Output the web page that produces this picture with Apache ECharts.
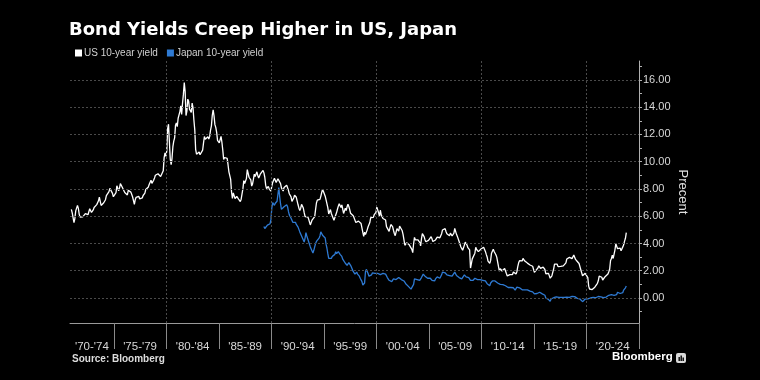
<!DOCTYPE html>
<html>
<head>
<meta charset="utf-8">
<script src="https://cdn.jsdelivr.net/npm/echarts@6/dist/echarts.min.js"></script>
<style>
html,body{margin:0;padding:0;background:#000;}
#chart{width:760px;height:380px;}
</style>
</head>
<body>
<div id="chart"></div>
<script>
// ---- Data ----
const titleText = 'Bond Yields Creep Higher in US, Japan';
const seriesNames = ['US 10-year yield', 'Japan 10-year yield'];
const xBinLabels = ["'70-'74","'75-'79","'80-'84","'85-'89","'90-'94","'95-'99","'00-'04","'05-'09","'10-'14","'15-'19","'20-'24"];
const xBinStarts = [1970.83,1975,1980,1985,1990,1995,2000,2005,2010,2015,2020];
const xBinEnds = [1975,1980,1985,1990,1995,2000,2005,2010,2015,2020,2025];
const xGridYears = [1980,1990,2000,2010,2020];
const yTicks = [0,2,4,6,8,10,12,14,16];
const yMinorTicks = [-1,1,3,5,7,9,11,13,15,17];

// US 10-year yield, monthly, starting Dec 1970
const usStart = [1970, 12];
const usYield = [
 6.50,
 6.24,6.11,5.53,5.83,6.39,6.52,6.80,6.58,6.14,5.93,5.81,5.93,
 5.95,6.08,6.07,6.19,6.13,6.11,6.11,6.21,6.55,6.48,6.28,6.36,
 6.46,6.64,6.71,6.67,6.85,6.90,7.13,7.40,7.09,6.79,6.73,6.74,
 6.99,6.96,7.21,7.51,7.58,7.54,7.81,8.04,8.04,7.90,7.68,7.43,
 7.50,7.39,7.73,8.23,8.06,7.86,8.06,8.40,8.43,8.14,8.05,8.00,
 7.74,7.79,7.73,7.56,7.90,7.86,7.83,7.77,7.59,7.41,7.29,6.87,
 7.21,7.39,7.46,7.37,7.46,7.28,7.33,7.40,7.34,7.52,7.58,7.69,
 7.96,8.03,8.04,8.15,8.35,8.46,8.64,8.41,8.42,8.64,8.81,9.01,
 9.10,9.10,9.12,9.18,9.25,8.91,8.95,9.03,9.33,10.30,10.65,10.39,
 10.80,12.41,12.75,11.47,10.18,9.78,10.25,11.10,11.51,11.75,12.68,12.84,
 12.57,13.19,13.12,13.68,14.10,13.47,14.28,14.94,15.80,15.15,13.39,13.72,
 14.59,14.43,13.86,13.87,13.62,14.30,13.95,13.06,12.34,10.91,10.55,10.54,
 10.46,10.72,10.51,10.40,10.38,10.85,11.38,11.85,11.65,11.54,11.69,11.83,
 11.67,11.84,12.32,12.63,13.41,13.80,13.36,12.72,12.52,12.16,11.57,11.50,
 11.38,11.51,11.86,11.43,10.85,10.16,10.31,10.33,10.37,10.24,9.78,9.26,
 9.19,8.70,7.78,7.30,7.71,7.80,7.30,7.17,7.45,7.43,7.25,7.11,
 7.08,7.25,7.25,8.02,8.61,8.40,8.45,8.76,9.42,9.52,8.86,8.99,
 8.67,8.21,8.37,8.72,9.09,8.92,9.06,9.26,8.98,8.80,8.96,9.11,
 9.09,9.17,9.36,9.18,8.86,8.28,8.02,8.11,8.19,8.01,7.87,7.84,
 8.21,8.47,8.59,8.79,8.76,8.48,8.47,8.75,8.89,8.72,8.39,8.08,
 8.09,7.85,8.11,8.04,8.07,8.28,8.27,7.90,7.65,7.53,7.42,7.09,
 7.03,7.34,7.54,7.48,7.39,7.26,6.84,6.59,6.42,6.59,6.87,6.77,
 6.60,6.26,5.98,5.97,6.04,5.96,5.81,5.68,5.36,5.33,5.72,5.77,
 5.75,5.97,6.48,6.97,7.18,7.10,7.30,7.24,7.46,7.74,7.96,7.81,
 7.78,7.47,7.20,7.06,6.63,6.17,6.28,6.49,6.20,6.04,5.93,5.71,
 5.65,5.81,6.27,6.51,6.74,6.91,6.87,6.64,6.83,6.53,6.20,6.30,
 6.58,6.42,6.69,6.89,6.71,6.49,6.22,6.30,6.21,6.03,5.88,5.81,
 5.54,5.57,5.65,5.64,5.65,5.50,5.46,5.34,4.81,4.53,4.83,4.65,
 4.72,5.00,5.23,5.18,5.54,5.90,5.79,5.94,5.92,6.11,6.03,6.28,
 6.66,6.52,6.26,5.99,6.44,6.10,6.05,5.83,5.80,5.74,5.72,5.24,
 5.16,5.10,4.89,5.14,5.39,5.28,5.24,4.97,4.73,4.57,4.65,5.09,
 5.04,4.91,5.28,5.21,5.16,4.93,4.65,4.26,3.87,3.94,4.05,4.03,
 4.05,3.90,3.81,3.96,3.57,3.33,3.98,4.45,4.27,4.29,4.30,4.27,
 4.15,4.08,3.83,4.35,4.72,4.73,4.50,4.28,4.13,4.10,4.19,4.23,
 4.22,4.17,4.50,4.34,4.14,4.00,4.18,4.26,4.20,4.46,4.54,4.47,
 4.42,4.57,4.72,4.99,5.11,5.11,5.09,4.88,4.72,4.73,4.60,4.56,
 4.76,4.72,4.56,4.69,4.75,5.10,5.00,4.67,4.52,4.53,4.15,4.10,
 3.74,3.74,3.51,3.68,3.88,4.10,4.01,3.89,3.69,3.81,3.53,2.20,
 2.52,2.87,2.82,2.93,3.29,3.72,3.56,3.59,3.40,3.39,3.40,3.59,
 3.73,3.69,3.73,3.85,3.42,3.20,3.01,2.70,2.65,2.54,2.76,3.29,
 3.39,3.58,3.41,3.46,3.17,3.00,3.00,2.30,1.98,2.15,2.01,1.98,
 1.97,1.97,2.17,2.05,1.80,1.62,1.50,1.68,1.72,1.75,1.65,1.72,
 1.91,1.98,1.96,1.76,1.93,2.30,2.58,2.74,2.81,2.62,2.72,2.90,
 2.86,2.71,2.72,2.71,2.56,2.60,2.54,2.42,2.53,2.30,2.33,2.21,
 1.88,1.98,2.04,1.94,2.20,2.36,2.32,2.17,2.17,2.07,2.26,2.24,
 2.09,1.78,1.89,1.81,1.81,1.64,1.45,1.56,1.63,1.76,2.14,2.49,
 2.43,2.42,2.48,2.30,2.30,2.19,2.32,2.21,2.20,2.36,2.35,2.40,
 2.58,2.86,2.84,2.87,2.98,2.91,2.89,2.89,3.00,3.15,3.12,2.83,
 2.71,2.68,2.57,2.53,2.40,2.07,2.06,1.63,1.70,1.71,1.81,1.86,
 1.76,1.50,0.87,0.66,0.67,0.73,0.62,0.65,0.68,0.79,0.87,0.93,
 1.08,1.26,1.61,1.64,1.62,1.52,1.32,1.28,1.37,1.58,1.56,1.47,
 1.76,1.93,2.13,2.75,2.90,3.14,2.90,2.90,3.52,3.98,3.89,3.62,
 3.53,3.75,3.66,3.46,3.57,3.75,3.90,4.17,4.38,4.80
];

// Japan 10-year yield, monthly, starting Apr 1989
const jpStart = [1989, 4];
const jpYield = [
 5.25,5.10,5.05,5.15,5.35,5.40,5.35,5.45,5.75,
 6.60,7.00,7.10,6.80,6.95,7.05,7.10,7.60,8.10,7.45,6.90,6.50,
 6.55,6.45,6.70,6.80,6.75,6.85,6.70,6.35,6.10,6.00,5.85,5.70,
 5.55,5.50,5.60,5.55,5.40,5.35,5.20,5.10,4.85,4.70,4.55,4.50,
 4.25,4.10,4.40,4.80,4.55,4.35,4.15,3.95,3.75,3.60,3.50,3.30,
 3.50,3.75,4.00,4.15,4.10,4.25,4.40,4.55,4.85,4.75,4.60,4.50,
 4.55,4.40,3.95,3.65,3.25,2.90,3.00,2.95,2.90,3.05,3.05,3.10,
 3.20,3.40,3.25,3.30,3.40,3.30,3.20,3.15,3.05,2.85,2.75,2.75,
 2.55,2.50,2.40,2.45,2.60,2.55,2.40,2.25,2.15,1.95,1.85,1.75,
 1.85,1.90,1.75,1.65,1.60,1.45,1.35,1.20,0.95,0.83,1.10,1.93,
 2.10,2.18,1.80,1.60,1.50,1.65,1.70,1.85,1.75,1.75,1.80,1.70,
 1.70,1.80,1.78,1.75,1.72,1.70,1.78,1.80,1.85,1.85,1.75,1.65,
 1.50,1.45,1.30,1.35,1.30,1.20,1.30,1.40,1.45,1.40,1.35,1.35,
 1.45,1.50,1.45,1.40,1.35,1.35,1.30,1.25,1.20,1.05,1.00,0.95,
 0.85,0.80,0.75,0.65,0.55,0.55,1.00,1.40,1.45,1.40,1.35,1.35,
 1.35,1.30,1.40,1.50,1.55,1.75,1.70,1.60,1.50,1.50,1.45,1.40,
 1.40,1.45,1.40,1.30,1.25,1.20,1.25,1.40,1.40,1.55,1.50,1.50,
 1.45,1.55,1.70,1.90,1.85,1.90,1.85,1.75,1.70,1.75,1.70,1.65,
 1.70,1.70,1.60,1.65,1.70,1.90,1.85,1.65,1.60,1.65,1.50,1.50,
 1.45,1.40,1.30,1.40,1.70,1.70,1.55,1.45,1.50,1.50,1.45,1.30,
 1.30,1.30,1.30,1.40,1.45,1.40,1.35,1.35,1.30,1.35,1.35,1.30,
 1.30,1.30,1.35,1.30,1.25,1.15,1.05,0.95,1.00,0.90,1.10,1.15,
 1.25,1.25,1.25,1.25,1.15,1.15,1.10,1.05,1.00,1.00,0.97,1.00,
 0.98,0.96,0.98,0.90,0.85,0.83,0.77,0.79,0.79,0.77,0.75,0.76,
 0.75,0.70,0.58,0.60,0.80,0.85,0.80,0.75,0.70,0.62,0.60,0.70,
 0.65,0.60,0.63,0.62,0.60,0.58,0.55,0.50,0.53,0.47,0.45,0.36,
 0.30,0.38,0.38,0.33,0.40,0.45,0.42,0.38,0.35,0.30,0.30,0.27,
 0.20,0.00,-0.05,-0.08,-0.10,-0.20,-0.25,-0.07,-0.06,-0.06,0.02,0.05,
 0.06,0.09,0.07,0.02,0.04,0.06,0.08,0.04,0.03,0.06,0.04,0.05,
 0.07,0.06,0.04,0.05,0.05,0.04,0.05,0.11,0.12,0.14,0.10,0.04,
 0.00,-0.03,-0.06,-0.05,-0.07,-0.13,-0.15,-0.27,-0.22,-0.15,-0.08,-0.02,
 -0.02,-0.07,0.00,-0.01,0.00,0.02,0.02,0.04,0.01,0.03,0.02,0.02,
 0.03,0.11,0.09,0.09,0.08,0.06,0.03,0.02,0.05,0.09,0.07,0.07,
 0.15,0.20,0.21,0.24,0.24,0.23,0.20,0.20,0.25,0.25,0.25,0.42,
 0.42,0.50,0.33,0.45,0.43,0.40,0.58,0.65,0.75,0.88
];

// ---- Build ----
function toPairs(start, vals) {
  return vals.map((v, i) => [start[0] + (start[1] - 1 + i + 0.5) / 12, v]);
}
const labelPos = xBinStarts.map((s, i) => (s + xBinEnds[i]) / 2);

const chart = echarts.init(document.getElementById('chart'), null, {renderer: 'canvas'});
const gridColor = '#4a4a4a';
const font = 'Liberation Sans, Arial, sans-serif';

chart.setOption({
  backgroundColor: '#000',
  animation: false,
  textStyle: {fontFamily: font},
  title: {
    text: titleText, left: 64, top: 16,
    textStyle: {color: '#fff', fontSize: 18, fontWeight: 'bold', fontFamily: '"DejaVu Sans", sans-serif'}
  },
  legend: {
    left: 70, top: 43, icon: 'rect', itemWidth: 7, itemHeight: 7, itemGap: 9,
    textStyle: {color: '#d0d0d0', fontSize: 10, padding: [0, 0, 0, -3]},
    data: seriesNames
  },
  grid: {left: 70, right: 121, top: 61, bottom: 57},
  xAxis: {
    type: 'value', min: 1970.83, max: 2025,
    axisLine: {show: true, onZero: false, lineStyle: {color: '#9a9a9a', width: 1}},
    axisTick: {show: true, length: 26, customValues: xBinEnds, lineStyle: {color: '#8a8a8a'}},
    axisLabel: {
      show: true, customValues: labelPos, margin: 18, color: '#d8d8d8', fontSize: 11.5,
      formatter: function (v) {
        let best = 0, bd = 1e9;
        labelPos.forEach((p, i) => { const d = Math.abs(p - v); if (d < bd) { bd = d; best = i; } });
        return xBinLabels[best];
      }
    },
    splitLine: {show: false}
  },
  yAxis: [{
    type: 'value', position: 'right', min: -1.835, max: 17.39,
    name: 'Precent', nameLocation: 'middle', nameRotate: -90, nameGap: 37,
    nameMoveOverlap: false,
    nameTextStyle: {color: '#e0e0e0', fontSize: 13},
    axisLine: {show: true, onZero: false, lineStyle: {color: '#b0b0b0', width: 1}},
    axisTick: {show: true, inside: false, length: 3, customValues: yTicks.concat(yMinorTicks), lineStyle: {color: '#b0b0b0'}},
    axisLabel: {customValues: yTicks, color: '#d8d8d8', fontSize: 11, margin: 4,
      formatter: v => v.toFixed(2)},
    splitLine: {show: false}
  }],
  series: [
    {
      name: 'grid', type: 'line', data: [], silent: true, z: 1,
      markLine: {
        silent: true, symbol: ['none', 'none'], label: {show: false},
        lineStyle: {color: gridColor, type: [2, 2], width: 1},
        emphasis: {disabled: true},
        data: yTicks.map(v => ({yAxis: v})).concat(xGridYears.map(v => ({xAxis: v})))
      }
    },
    {
      name: seriesNames[0], type: 'line', data: toPairs(usStart, usYield),
      showSymbol: false, symbol: 'none', z: 3,
      itemStyle: {color: '#ffffff'}, lineStyle: {color: '#ffffff', width: 1.3}
    },
    {
      name: seriesNames[1], type: 'line', data: toPairs(jpStart, jpYield),
      showSymbol: false, symbol: 'none', z: 4,
      itemStyle: {color: '#2e7ad3'}, lineStyle: {color: '#2e7ad3', width: 1.3}
    }
  ],
  graphic: [
    {type: 'text', left: 72, top: 354, style: {text: 'Source: Bloomberg', fill: '#dddddd', font: 'bold 10px ' + font}},
    {type: 'text', left: 612, top: 351, style: {text: 'Bloomberg', fill: '#ffffff', font: 'bold 11.5px ' + font}},
    {type: 'rect', left: 676, top: 353, shape: {width: 10, height: 10, r: 2}, style: {fill: '#d8d8d8'}},
    {type: 'rect', left: 678.5, top: 357, shape: {width: 1.4, height: 4}, style: {fill: '#000'}},
    {type: 'rect', left: 680.5, top: 355.5, shape: {width: 1.4, height: 5.5}, style: {fill: '#000'}},
    {type: 'rect', left: 682.5, top: 357.5, shape: {width: 1.4, height: 3.5}, style: {fill: '#000'}}
  ]
});
</script>
</body>
</html>
